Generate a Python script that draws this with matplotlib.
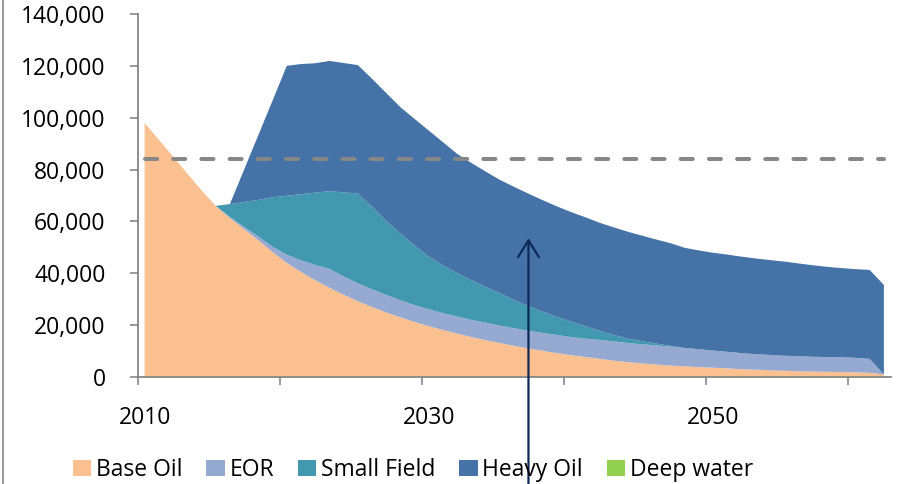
import numpy as np
import matplotlib
matplotlib.use("Agg")
import matplotlib.pyplot as plt
from matplotlib.lines import Line2D
from matplotlib.ticker import FuncFormatter, FixedLocator

plt.rcParams['font.family'] = ['Open Sans', 'DejaVu Sans']

years = np.arange(2010, 2063)

base_oil = [98000, 91500, 85000, 78500, 72000, 66000, 61300, 57000, 52800, 48200,
            44000, 40500, 37300, 34400, 31700, 29200, 27000, 24900, 23000, 21200,
            19600, 18100, 16700, 15400, 14200, 13100, 12000, 11000, 10100, 9200,
            8400, 7700, 7000, 6300, 5700, 5200, 4800, 4400, 4100, 3800,
            3600, 3300, 3000, 2800, 2600, 2400, 2200, 2100, 2000, 1900,
            1800, 1600, 1000]

eor = [0, 0, 0, 0, 0, 0, 400, 900, 1400, 2000,
       3200, 4500, 5900, 7300, 7100, 6900, 6800, 6700, 6600, 6500,
       6500, 6500, 6600, 6600, 6700, 6700, 6800, 6800, 6900, 7000,
       7000, 7100, 7300, 7400, 7400, 7400, 7400, 7300, 7100, 6900,
       6600, 6400, 6200, 6000, 5900, 5800, 5800, 5700, 5700, 5700,
       5600, 5400, 0]

small_field = [0, 0, 0, 0, 0, 0, 5000, 9600, 14100, 19100,
               22700, 25500, 27900, 30000, 32400, 34700, 31800, 28600, 25700, 23000,
               20300, 18400, 16700, 15300, 13800, 12500, 10800, 9500, 8200, 7000,
               6000, 4800, 3500, 2500, 1700, 1200, 700, 300, 0, 0,
               0, 0, 0, 0, 0, 0, 0, 0, 0, 0,
               0, 0, 0]

heavy_oil = [0, 0, 0, 0, 0, 0, 0, 12500, 25000, 37300,
             50100, 50200, 49900, 50200, 49900, 49500, 49400, 49300, 48700, 48800,
             48600, 47500, 46000, 45200, 44500, 43700, 43700, 43400, 43000, 42600,
             42200, 42000, 41700, 41500, 41200, 40700, 40100, 39600, 38600, 38100,
             37700, 37500, 37200, 36900, 36600, 36300, 35800, 35300, 34800, 34400,
             34200, 34300, 34500]

deep_water = [0] * len(years)

series_labels = ['Base Oil', 'EOR', 'Small Field', 'Heavy Oil', 'Deep water']
series_colors = ['#FAC090', '#95A9D1', '#4298AF', '#4572A7', '#92D050']

target_level = 84000
arrow_year = 2037
arrow_tip = 53500

y_ticks = [0, 20000, 40000, 60000, 80000, 100000, 120000, 140000]
x_label_years = [2010, 2030, 2050]
x_tick_bounds = [2009.5, 2019.5, 2029.5, 2039.5, 2049.5, 2059.5]

FS = 16.5

W, H = 901, 484
fig = plt.figure(figsize=(W / 100, H / 100), dpi=100)
ax = fig.add_axes([137.5 / W, (H - 377) / H, (891 - 137.5) / W, 363 / H])

ax.stackplot(years, base_oil, eor, small_field, heavy_oil, deep_water,
             colors=series_colors, labels=series_labels, linewidth=0)

ax.plot([years[0], years[-1]], [target_level, target_level], color='#878787',
        linewidth=2.9, dashes=(3, 4), dash_capstyle='round', zorder=3)

ax.annotate('', xy=(arrow_year, arrow_tip), xycoords='data',
            xytext=(arrow_year, -0.01), textcoords=('data', 'figure fraction'),
            arrowprops=dict(arrowstyle='->,head_length=0.4,head_width=0.25',
                            color='#0E2857', lw=1.6, shrinkA=0, shrinkB=0,
                            mutation_scale=30),
            annotation_clip=False, zorder=6)

ax.set_xlim(2009.5, 2062.5)
ax.set_ylim(0, 140000)

grey = '#868686'
for s in ['top', 'right']:
    ax.spines[s].set_visible(False)
for s in ['left', 'bottom']:
    ax.spines[s].set_color(grey)
    ax.spines[s].set_linewidth(1.3)

ax.set_yticks(y_ticks)
ax.yaxis.set_major_formatter(FuncFormatter(lambda v, p: f"{int(v):,}"))
ax.tick_params(axis='y', direction='out', length=6, width=1.2, color=grey,
               labelsize=FS, pad=17, labelcolor='black')

ax.xaxis.set_major_locator(FixedLocator(x_tick_bounds))
ax.xaxis.set_minor_locator(FixedLocator(x_label_years))
ax.tick_params(axis='x', which='major', direction='out', length=6, width=1.2,
               color=grey, labelbottom=False)
ax.tick_params(axis='x', which='minor', length=0, labelsize=FS, pad=21,
               labelcolor='black')
ax.xaxis.set_minor_formatter(FuncFormatter(lambda v, p: f"{int(round(v))}"))

leg = fig.legend(loc='center', bbox_to_anchor=(413 / W, (H - 470) / H), ncol=5,
                 frameon=False, fontsize=FS, handlelength=0.8, handleheight=0.7,
                 handletextpad=0.2, columnspacing=1.05, borderaxespad=0, borderpad=0)

fig.add_artist(Line2D([2.5 / W, 2.5 / W], [0, 1], color=grey, linewidth=1.2,
                      transform=fig.transFigure))

fig.savefig('out.png', dpi=100)
